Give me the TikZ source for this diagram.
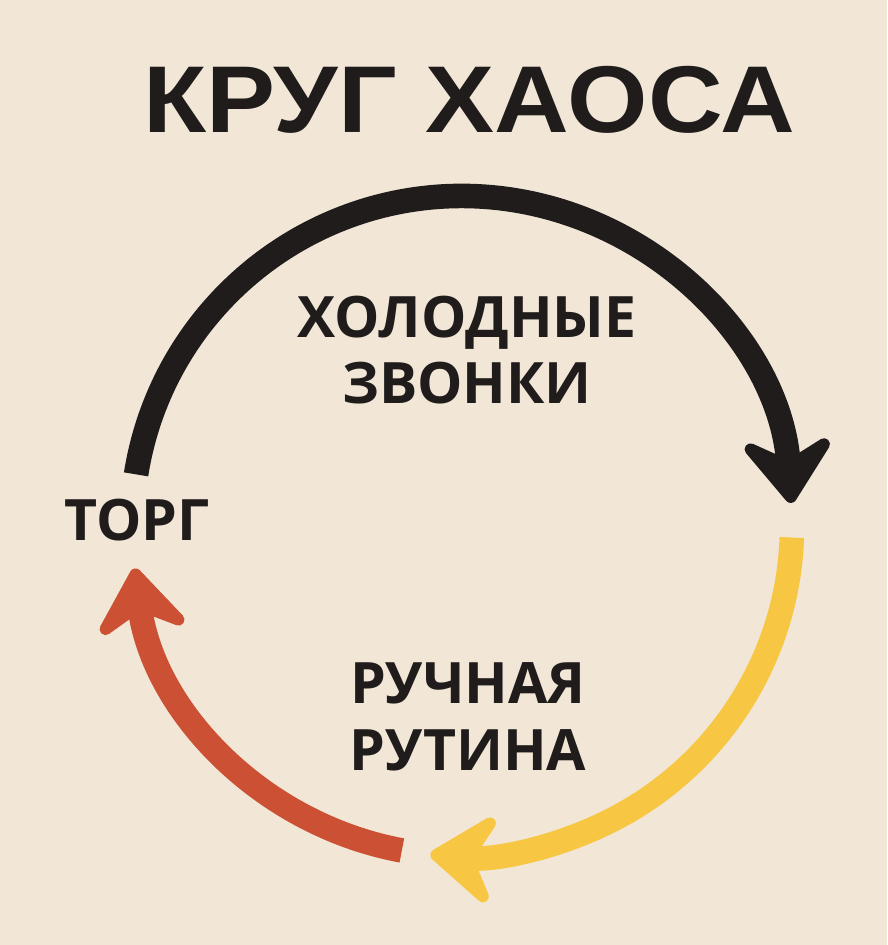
\documentclass[tikz,border=0pt]{standalone}
\usepackage{fontspec}
\setmainfont{Open Sans}
\newfontfamily\khtitlefont[FakeStretch=1.09]{Liberation Sans}
\usetikzlibrary{arrows.meta,calc}
\definecolor{khbg}{HTML}{F2E7D7}
\definecolor{khink}{HTML}{1F1C1B}
\definecolor{khyellow}{HTML}{F7C744}
\definecolor{khred}{HTML}{CC5033}
\tikzset{
  kh title/.style={font=\khtitlefont\bfseries\fontsize{54}{60}\selectfont, text=khink, inner sep=0pt},
  kh label/.style={font=\bfseries\fontsize{32.5}{38}\selectfont, text=khink, align=center, inner sep=0pt},
  kh arc/.style={line width=14pt, line cap=butt,
    -{Stealth[length=1.55cm, width=2.25cm, inset=0.6cm, round, line width=10pt]}}
}
\begin{document}
\begin{tikzpicture}[x=0.02cm, y=0.02cm]
  \fill[khbg] (0,0) rectangle (887,945);
  \useasboundingbox (0,0) rectangle (887,945);
  \coordinate (mid) at (462,419);
  \node[kh title, anchor=base] (title) at (469,812) {КРУГ ХАОСА};
  \node[kh label] (calls) at (467,595) {ХОЛОДНЫЕ\\ЗВОНКИ};
  \node[kh label] (routine) at (468,228) {РУЧНАЯ\\РУТИНА};
  \node[kh label] (deal) at (137,425) {ТОРГ};
  % the three arcs of the cycle
  \coordinate (blackstart) at ($(mid)+(171:330)$);
  \coordinate (yellowstart) at ($(mid)+(-2:330)$);
  \coordinate (redstart) at ($(mid)+(-100.5:330)$);
  \draw[kh arc, draw=khink] (blackstart) arc[start angle=171, end angle=4, radius=330];
  \draw[kh arc, draw=khyellow] (yellowstart) arc[start angle=-2, end angle=-95.5, radius=330];
  \draw[kh arc, draw=khred] (redstart) arc[start angle=-100.5, end angle=-172.6, radius=330];
\end{tikzpicture}
\end{document}
